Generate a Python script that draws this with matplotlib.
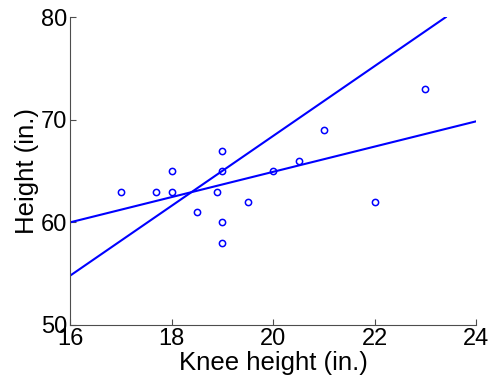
import matplotlib
matplotlib.use("Agg")
import matplotlib.pyplot as plt

# Knee height vs. height data (inches)
knee = [17, 17.7, 18, 18, 18.5, 18.9, 19, 19, 19, 19, 19.5, 20, 20.5, 21, 22, 23]
height = [63, 63, 63, 65, 61, 63, 67, 65, 60, 58, 62, 65, 66, 69, 62, 73]

# two fitted lines (end points)
line1_x = [16, 24]
line1_y = [60.0, 69.85]
line2_x = [16, 23.4]
line2_y = [54.8, 80]

plt.rcParams['font.family'] = ['Liberation Sans', 'DejaVu Sans']

fig = plt.figure(figsize=(4.93, 3.81), dpi=100)
ax = fig.add_axes([0.142, 0.147, 0.824, 0.808])

ax.plot(knee, height, 'o', mfc='none', mec=(0, 0, 1), ms=4.5, mew=1.1)
ax.plot(line1_x, line1_y, color=(0, 0, 1), lw=1.5)
ax.plot(line2_x, line2_y, color=(0, 0, 1), lw=1.5)

ax.set_xlim(16, 24)
ax.set_ylim(50, 80)
ax.set_xticks([16, 18, 20, 22, 24])
ax.set_yticks([50, 60, 70, 80])

ax.spines['top'].set_visible(False)
ax.spines['right'].set_visible(False)
for s in ['left', 'bottom']:
    ax.spines[s].set_linewidth(0.8)
    ax.spines[s].set_color('0.3')
ax.tick_params(direction='in', length=4, width=0.8, color='0.3',
               labelsize=17, pad=2)

ax.set_xlabel('Knee height (in.)', fontsize=18.5, labelpad=1)
ax.set_ylabel('Height (in.)', fontsize=18.5, labelpad=1)

fig.savefig('out.png', dpi=100)
